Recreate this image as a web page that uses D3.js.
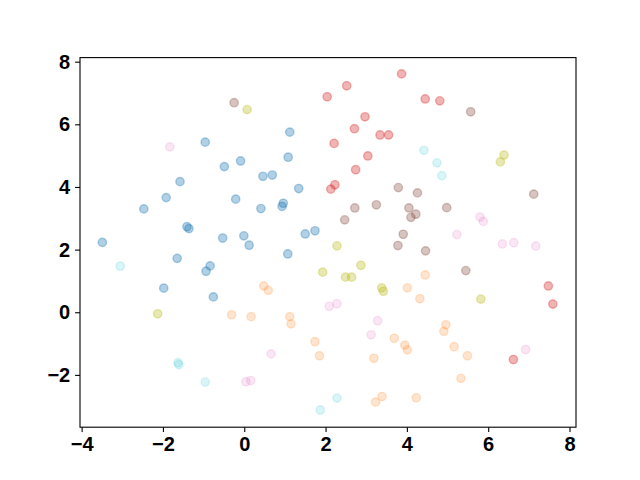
<!DOCTYPE html>
<html>
<head>
<meta charset="utf-8">
<script src="https://cdn.jsdelivr.net/npm/d3@7"></script>
<style>
  body { margin: 0; background: #fff; }
  .tick text { font-family: 'Liberation Sans', Arial, sans-serif; font-weight: bold; }
</style>
</head>
<body>
<div id="chart"></div>
<script>
// values, one array per colour group
const blueX = [-3.49, -2.47, -1.92, -1.58, -0.96, -0.49, -0.09, -0.21, 0.41, 0.46, 0.69, 1.12, 1.08, 1.34, 0.96, 0.93, -0.01, 0.12, 1.50, 1.74, 1.07, -1.41, -1.36, -0.53, -1.65, -0.84, -0.94, -1.98, -0.76];
const blueY = [2.23, 3.30, 3.66, 4.17, 5.43, 4.65, 4.83, 3.61, 3.31, 4.34, 4.38, 5.75, 4.95, 3.95, 3.48, 3.38, 2.44, 2.14, 2.50, 2.60, 1.86, 2.73, 2.67, 2.37, 1.72, 1.48, 1.31, 0.77, 0.49];

const orangeX = [0.48, 0.59, 4.01, 4.45, 4.32, -0.31, 0.17, 1.12, 1.15, 1.74, 1.85, 3.69, 3.95, 4.01, 3.19, 3.39, 3.23, 4.96, 4.91, 5.16, 5.49, 5.33, 4.23];
const orangeY = [0.84, 0.70, 0.78, 1.19, 0.43, -0.08, -0.14, -0.14, -0.37, -0.94, -1.39, -0.83, -1.05, -1.20, -1.47, -2.69, -2.87, -0.40, -0.61, -1.10, -1.39, -2.11, -2.73];

const redX = [2.04, 2.52, 3.87, 2.97, 2.71, 3.34, 3.55, 2.21, 3.04, 2.74, 2.23, 2.13, 4.45, 4.81, 7.48, 7.59, 6.62];
const redY = [6.88, 7.23, 7.61, 6.24, 5.86, 5.66, 5.66, 5.39, 4.99, 4.55, 4.07, 3.93, 6.81, 6.75, 0.84, 0.26, -1.51];

const brownX = [-0.25, 5.57, 3.79, 2.72, 3.25, 2.47, 3.91, 3.78, 4.26, 4.05, 4.10, 4.22, 4.98, 4.46, 5.45, 7.12];
const brownY = [6.69, 6.40, 3.98, 3.33, 3.43, 2.95, 2.49, 2.13, 3.81, 3.33, 3.03, 3.13, 3.34, 1.96, 1.33, 3.77];

const pinkX = [-1.83, 5.80, 5.88, 5.23, 6.35, 6.63, 7.17, 2.09, 2.28, 3.28, 3.12, 0.66, 0.04, 0.16, 6.92];
const pinkY = [5.28, 3.04, 2.90, 2.48, 2.18, 2.22, 2.11, 0.19, 0.27, -0.27, -0.72, -1.33, -2.22, -2.18, -1.19];

const oliveX = [0.07, 6.39, 6.30, 2.28, 1.93, 2.87, 2.49, 2.64, 3.38, 3.42, 5.82, -2.13];
const oliveY = [6.47, 5.02, 4.80, 2.12, 1.28, 1.50, 1.12, 1.12, 0.78, 0.67, 0.42, -0.05];

const cyanX = [-3.05, 4.42, 4.74, 4.86, -1.63, -1.61, -0.96, 2.28, 1.87];
const cyanY = [1.47, 5.17, 4.77, 4.36, -1.61, -1.67, -2.23, -2.74, -3.12];

const xTicks = [-4, -2, 0, 2, 4, 6, 8];
const yTicks = [-2, 0, 2, 4, 6, 8];

const groups = [
  { xs: blueX, ys: blueY, color: '#1f77b4', alpha: 0.35 },
  { xs: orangeX, ys: orangeY, color: '#ff7f0e', alpha: 0.2 },
  { xs: redX, ys: redY, color: '#d62728', alpha: 0.35 },
  { xs: brownX, ys: brownY, color: '#8c564b', alpha: 0.35 },
  { xs: pinkX, ys: pinkY, color: '#e377c2', alpha: 0.18 },
  { xs: oliveX, ys: oliveY, color: '#bcbd22', alpha: 0.35 },
  { xs: cyanX, ys: cyanY, color: '#17becf', alpha: 0.16 }
];

const w = 640,
  h = 480;
const mLeft = 80,
  mRight = 576,
  mTop = 57.6,
  mBottom = 427.2;

const x = d3.scaleLinear().domain([-4.04, 8.16]).range([mLeft, mRight]);
const y = d3.scaleLinear().domain([-3.67, 8.13]).range([mBottom, mTop]);

const svg = d3
  .select('#chart')
  .append('svg')
  .attr('width', w)
  .attr('height', h);

groups.forEach((g) => {
  const pts = g.xs.map((v, i) => ({ x: v, y: g.ys[i] }));
  svg
    .append('g')
    .selectAll('circle')
    .data(pts)
    .join('circle')
    .attr('cx', (d) => x(d.x))
    .attr('cy', (d) => y(d.y))
    .attr('r', 4.17)
    .attr('fill', g.color)
    .attr('fill-opacity', g.alpha)
    .attr('stroke', g.color)
    .attr('stroke-opacity', g.alpha)
    .attr('stroke-width', 1.39);
});

// axes, matplotlib-ish
const fmt = (d) => (d < 0 ? '\u2212' + Math.abs(d) : d);
const xAxis = d3.axisBottom(x).tickValues(xTicks).tickSize(4.9).tickPadding(4.9).tickFormat(fmt);
const yAxis = d3.axisLeft(y).tickValues(yTicks).tickSize(4.9).tickPadding(4.9).tickFormat(fmt);

const gx = svg.append('g').attr('transform', `translate(0,${mBottom})`).call(xAxis);
const gy = svg.append('g').attr('transform', `translate(${mLeft},0)`).call(yAxis);

[gx, gy].forEach((g) => {
  g.select('.domain').remove();
  g.selectAll('.tick line').attr('stroke', '#000').attr('stroke-width', 1.1);
  g.selectAll('.tick text').attr('fill', '#000').style('font-size', '20px');
});

svg
  .append('rect')
  .attr('x', mLeft)
  .attr('y', mTop)
  .attr('width', mRight - mLeft)
  .attr('height', mBottom - mTop)
  .attr('fill', 'none')
  .attr('stroke', '#000')
  .attr('stroke-width', 1.1);
</script>
</body>
</html>
